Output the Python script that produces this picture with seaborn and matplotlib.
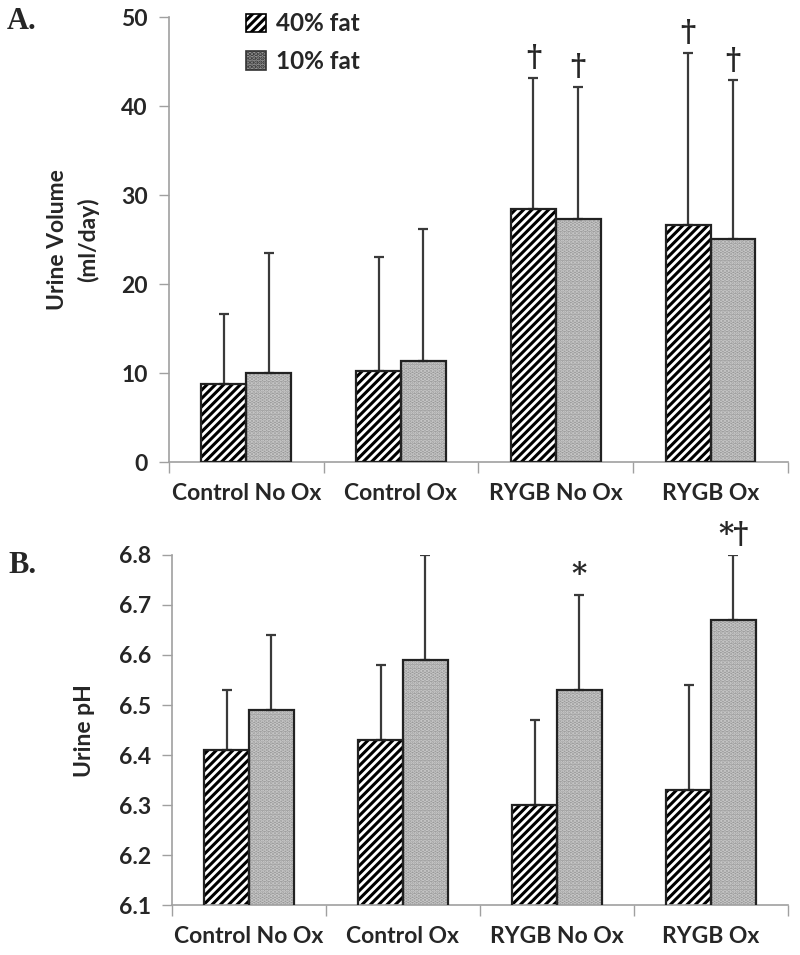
import matplotlib
matplotlib.use("Agg")
import matplotlib.pyplot as plt
import seaborn as sns
import pandas as pd
import numpy as np
from matplotlib.patches import Rectangle, Patch

categories = ["Control No Ox", "Control Ox", "RYGB No Ox", "RYGB Ox"]
diets = ["40% fat", "10% fat"]

vol_40 = [8.8, 10.3, 28.4, 26.7]
vol_40_sd = [7.9, 12.8, 14.8, 19.3]
vol_10 = [10.0, 11.4, 27.3, 25.1]
vol_10_sd = [13.5, 14.8, 14.9, 17.8]

ph_40 = [6.41, 6.43, 6.30, 6.33]
ph_40_sd = [0.12, 0.15, 0.17, 0.21]
ph_10 = [6.49, 6.59, 6.53, 6.67]
ph_10_sd = [0.15, 0.21, 0.19, 0.13]

vol_marks_40 = ["", "", "\u2020", "\u2020"]
vol_marks_10 = ["", "", "\u2020", "\u2020"]
ph_marks_40 = ["", "", "", ""]
ph_marks_10 = ["", "", "*", "*\u2020"]

sns.set_style("white")
plt.rcParams['font.family'] = ['Lato', 'DejaVu Sans']
plt.rcParams['hatch.linewidth'] = 2.2

GRAY_FACE = "#9a9a9a"
DOT = "#cccccc"
SPINE = "#a0a0a0"
FS = 16.5

fig = plt.figure(figsize=(8, 9.55), dpi=100)
axA = fig.add_axes([0.211, 0.516, 0.774, 0.466])
axB = fig.add_axes([0.215, 0.052, 0.770, 0.367])


def draw(ax, m40, s40, m10, s10, marks40, marks10, ylim, yticks, yfmt, ylabel, markpad, lpad):
    df = pd.DataFrame({
        "cat": categories * 2,
        "diet": [diets[0]] * 4 + [diets[1]] * 4,
        "val": list(m40) + list(m10),
    })
    sns.barplot(data=df, x="cat", y="val", hue="diet", order=categories,
                hue_order=diets, width=0.58, gap=0, errorbar=None,
                palette=["white", GRAY_FACE], legend=False, ax=ax)
    sds = [s40, s10]
    marks = [marks40, marks10]
    conts = list(ax.containers)[:2]
    for i, cont in enumerate(conts):
        xs, hs = [], []
        for p in cont.patches:
            if i == 0:
                p.set_facecolor("white")
                p.set_hatch("////")
                p.set_edgecolor("black")
                p.set_linewidth(0)
            else:
                p.set_facecolor(GRAY_FACE)
                p.set_hatch("....")
                p.set_edgecolor(DOT)
                p.set_linewidth(0)
            outline = Rectangle(p.get_xy(), p.get_width(), p.get_height(),
                                fill=False, edgecolor="#222222", linewidth=1.6, zorder=3)
            ax.add_patch(outline)
            xs.append(p.get_x() + p.get_width() / 2)
            hs.append(p.get_y() + p.get_height())
        hs = np.array(hs)
        err = np.array(sds[i])
        ax.errorbar(xs, hs, yerr=[np.zeros_like(err), err], fmt="none",
                    ecolor="#3a3a3a", elinewidth=1.6, capsize=3.5, capthick=1.6, zorder=2)
        for x, h, e, mk in zip(xs, hs, err, marks[i]):
            if mk:
                ax.text(x, h + e + markpad, mk, ha="center", va="bottom",
                        fontsize=21, fontweight="bold", family=["DejaVu Serif"])
    ax.set_ylim(*ylim)
    ax.set_xlim(-0.5, 3.5)
    ax.set_yticks(yticks)
    ax.set_yticklabels([yfmt.format(v) for v in yticks], fontsize=FS, fontweight="bold")
    ax.set_xticks([-0.5, 0.5, 1.5, 2.5, 3.5])
    ax.set_xticklabels([])
    ax.set_xticks([0, 1, 2, 3], minor=True)
    ax.set_xticklabels(categories, minor=True, fontsize=FS, fontweight="bold")
    ax.tick_params(axis="x", which="major", length=8, width=1, color=SPINE, direction="out", bottom=True)
    ax.tick_params(axis="x", which="minor", length=0, pad=15)
    ax.tick_params(axis="y", length=7, width=1, color=SPINE, direction="out", left=True, pad=8)
    ax.set_xlabel("")
    ax.set_ylabel(ylabel, fontsize=FS, fontweight="bold", labelpad=lpad, linespacing=1.5)
    for s in ["top", "right"]:
        ax.spines[s].set_visible(False)
    for s in ["left", "bottom"]:
        ax.spines[s].set_color(SPINE)
        ax.spines[s].set_linewidth(1.2)


draw(axA, vol_40, vol_40_sd, vol_10, vol_10_sd, vol_marks_40, vol_marks_10,
     (0, 50), [0, 10, 20, 30, 40, 50], "{:.0f}", "Urine Volume\n(ml/day)", 0.6, 16)
draw(axB, ph_40, ph_40_sd, ph_10, ph_10_sd, ph_marks_40, ph_marks_10,
     (6.1, 6.8), [6.1, 6.2, 6.3, 6.4, 6.5, 6.6, 6.7, 6.8], "{:.1f}", "Urine pH", 0.012, 17)

h1 = Patch(facecolor="white", edgecolor="black", hatch="////", linewidth=1.2, label=diets[0])
h2 = Patch(facecolor=GRAY_FACE, edgecolor="#333333", hatch="....", linewidth=1.2, label=diets[1])
axA.legend(handles=[h1, h2], loc="upper left", bbox_to_anchor=(0.09, 1.06),
           frameon=False, prop={"weight": "bold", "size": 17.5},
           handlelength=0.8, handleheight=0.8, handletextpad=0.4, labelspacing=0.6)

fig.text(0.008, 0.977, "A.", fontsize=22, fontweight="bold", family=["Liberation Serif"], va="center")
fig.text(0.011, 0.408, "B.", fontsize=22, fontweight="bold", family=["Liberation Serif"], va="center")

fig.savefig("out.png", dpi=100)
